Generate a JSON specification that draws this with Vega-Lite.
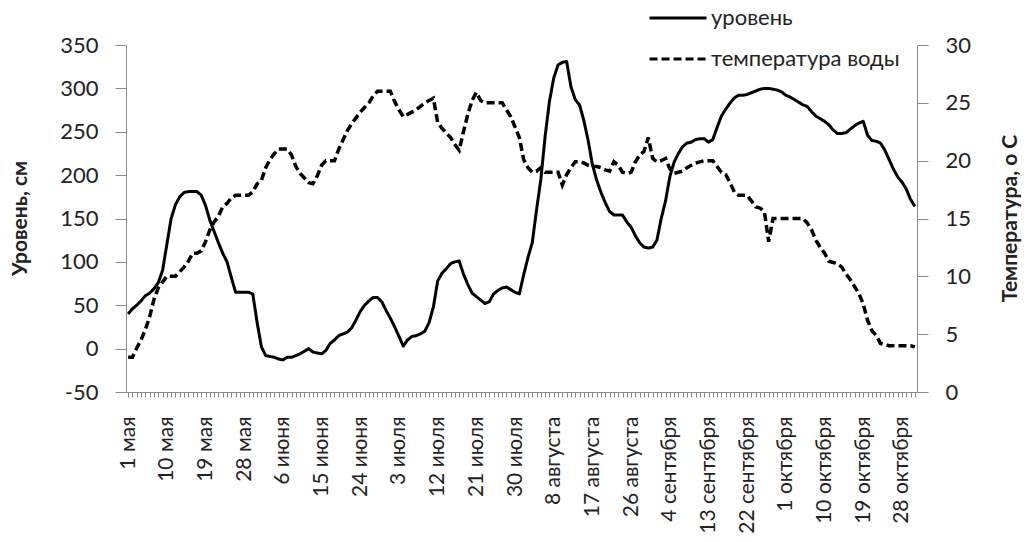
{
  "$schema": "https://vega.github.io/schema/vega-lite/v6.json",
  "width": 791,
  "height": 347,
  "autosize": {"type": "none"},
  "padding": {"left": 126, "top": 45, "right": 110, "bottom": 150},
  "background": "white",
  "config": {
    "view": {"stroke": null},
    "font": "Lato",
    "axis": {
      "labelFont": "Lato",
      "titleFont": "Lato",
      "labelColor": "#222222",
      "titleColor": "#222222",
      "domainColor": "#8a8a8a",
      "tickColor": "#8a8a8a",
      "grid": false
    },
    "legend": {"labelFont": "Lato"}
  },
  "data": {
    "values": [
      {"d": "1 мая", "level": 40, "temp": 3},
      {"d": "2 мая", "level": 46, "temp": 3},
      {"d": "3 мая", "level": 50, "temp": 3.8},
      {"d": "4 мая", "level": 55, "temp": 4.5},
      {"d": "5 мая", "level": 61, "temp": 5.4},
      {"d": "6 мая", "level": 64, "temp": 6.5},
      {"d": "7 мая", "level": 69, "temp": 8},
      {"d": "8 мая", "level": 76, "temp": 9},
      {"d": "9 мая", "level": 90, "temp": 9.5},
      {"d": "10 мая", "level": 120, "temp": 10},
      {"d": "11 мая", "level": 150, "temp": 10},
      {"d": "12 мая", "level": 166, "temp": 10},
      {"d": "13 мая", "level": 175, "temp": 10.4},
      {"d": "14 мая", "level": 180, "temp": 10.8},
      {"d": "15 мая", "level": 181, "temp": 11.3},
      {"d": "16 мая", "level": 181, "temp": 12},
      {"d": "17 мая", "level": 181, "temp": 12},
      {"d": "18 мая", "level": 177, "temp": 12.2},
      {"d": "19 мая", "level": 165, "temp": 13},
      {"d": "20 мая", "level": 148, "temp": 14},
      {"d": "21 мая", "level": 135, "temp": 14.7},
      {"d": "22 мая", "level": 122, "temp": 15.2},
      {"d": "23 мая", "level": 110, "temp": 16},
      {"d": "24 мая", "level": 100, "temp": 16.3},
      {"d": "25 мая", "level": 82, "temp": 16.8},
      {"d": "26 мая", "level": 65, "temp": 17},
      {"d": "27 мая", "level": 65, "temp": 17},
      {"d": "28 мая", "level": 65, "temp": 17},
      {"d": "29 мая", "level": 65, "temp": 17},
      {"d": "30 мая", "level": 63, "temp": 17.3},
      {"d": "31 мая", "level": 30, "temp": 18},
      {"d": "1 июня", "level": 2, "temp": 18.3},
      {"d": "2 июня", "level": -8, "temp": 19.4},
      {"d": "3 июня", "level": -9, "temp": 20.1},
      {"d": "4 июня", "level": -10, "temp": 20.6},
      {"d": "5 июня", "level": -12, "temp": 21},
      {"d": "6 июня", "level": -13, "temp": 21},
      {"d": "7 июня", "level": -10, "temp": 21},
      {"d": "8 июня", "level": -10, "temp": 20.5},
      {"d": "9 июня", "level": -8, "temp": 19.5},
      {"d": "10 июня", "level": -6, "temp": 18.9},
      {"d": "11 июня", "level": -3, "temp": 18.5},
      {"d": "12 июня", "level": 0, "temp": 18.1},
      {"d": "13 июня", "level": -4, "temp": 18},
      {"d": "14 июня", "level": -5, "temp": 18.7},
      {"d": "15 июня", "level": -6, "temp": 19.6},
      {"d": "16 июня", "level": -2, "temp": 20},
      {"d": "17 июня", "level": 6, "temp": 20},
      {"d": "18 июня", "level": 10, "temp": 20},
      {"d": "19 июня", "level": 15, "temp": 21},
      {"d": "20 июня", "level": 17, "temp": 21.8},
      {"d": "21 июня", "level": 19, "temp": 22.6},
      {"d": "22 июня", "level": 24, "temp": 23.2},
      {"d": "23 июня", "level": 33, "temp": 23.7},
      {"d": "24 июня", "level": 43, "temp": 24.2},
      {"d": "25 июня", "level": 50, "temp": 24.6},
      {"d": "26 июня", "level": 55, "temp": 25},
      {"d": "27 июня", "level": 59, "temp": 25.6},
      {"d": "28 июня", "level": 59, "temp": 26},
      {"d": "29 июня", "level": 54, "temp": 26},
      {"d": "30 июня", "level": 44, "temp": 26},
      {"d": "1 июля", "level": 35, "temp": 26},
      {"d": "2 июля", "level": 25, "temp": 25.1},
      {"d": "3 июля", "level": 14, "temp": 24.4},
      {"d": "4 июля", "level": 3, "temp": 23.8},
      {"d": "5 июля", "level": 10, "temp": 24},
      {"d": "6 июля", "level": 14, "temp": 24.2},
      {"d": "7 июля", "level": 15, "temp": 24.4},
      {"d": "8 июля", "level": 17, "temp": 24.7},
      {"d": "9 июля", "level": 20, "temp": 25},
      {"d": "10 июля", "level": 30, "temp": 25.2},
      {"d": "11 июля", "level": 48, "temp": 25.4},
      {"d": "12 июля", "level": 78, "temp": 23.3},
      {"d": "13 июля", "level": 87, "temp": 22.8},
      {"d": "14 июля", "level": 92, "temp": 22.4},
      {"d": "15 июля", "level": 98, "temp": 22},
      {"d": "16 июля", "level": 100, "temp": 21.4},
      {"d": "17 июля", "level": 101, "temp": 20.9},
      {"d": "18 июля", "level": 86, "temp": 22.5},
      {"d": "19 июля", "level": 74, "temp": 24},
      {"d": "20 июля", "level": 64, "temp": 25.2},
      {"d": "21 июля", "level": 60, "temp": 25.9},
      {"d": "22 июля", "level": 56, "temp": 25.2},
      {"d": "23 июля", "level": 52, "temp": 25},
      {"d": "24 июля", "level": 54, "temp": 25},
      {"d": "25 июля", "level": 63, "temp": 25},
      {"d": "26 июля", "level": 67, "temp": 25},
      {"d": "27 июля", "level": 70, "temp": 25},
      {"d": "28 июля", "level": 71, "temp": 24.4},
      {"d": "29 июля", "level": 68, "temp": 23.8},
      {"d": "30 июля", "level": 65, "temp": 22.9},
      {"d": "31 июля", "level": 63, "temp": 22},
      {"d": "1 августа", "level": 85, "temp": 20.1},
      {"d": "2 августа", "level": 105, "temp": 19.4},
      {"d": "3 августа", "level": 122, "temp": 19},
      {"d": "4 августа", "level": 160, "temp": 19.1},
      {"d": "5 августа", "level": 195, "temp": 19.4},
      {"d": "6 августа", "level": 245, "temp": 19},
      {"d": "7 августа", "level": 285, "temp": 19},
      {"d": "8 августа", "level": 312, "temp": 19},
      {"d": "9 августа", "level": 327, "temp": 19},
      {"d": "10 августа", "level": 330, "temp": 17.9},
      {"d": "11 августа", "level": 331, "temp": 18.8},
      {"d": "12 августа", "level": 302, "temp": 19.4},
      {"d": "13 августа", "level": 287, "temp": 19.9},
      {"d": "14 августа", "level": 281, "temp": 19.9},
      {"d": "15 августа", "level": 263, "temp": 19.8},
      {"d": "16 августа", "level": 240, "temp": 19.6},
      {"d": "17 августа", "level": 212, "temp": 19.5},
      {"d": "18 августа", "level": 194, "temp": 19.5},
      {"d": "19 августа", "level": 180, "temp": 19.4},
      {"d": "20 августа", "level": 168, "temp": 19.2},
      {"d": "21 августа", "level": 158, "temp": 19.1},
      {"d": "22 августа", "level": 154, "temp": 19.9},
      {"d": "23 августа", "level": 154, "temp": 19.6},
      {"d": "24 августа", "level": 154, "temp": 19},
      {"d": "25 августа", "level": 146, "temp": 18.9},
      {"d": "26 августа", "level": 140, "temp": 19},
      {"d": "27 августа", "level": 130, "temp": 19.9},
      {"d": "28 августа", "level": 122, "temp": 20.5},
      {"d": "29 августа", "level": 117, "temp": 20.8},
      {"d": "30 августа", "level": 116, "temp": 22},
      {"d": "31 августа", "level": 117, "temp": 20.2},
      {"d": "1 сентября", "level": 125, "temp": 19.9},
      {"d": "2 сентября", "level": 150, "temp": 20},
      {"d": "3 сентября", "level": 170, "temp": 20.2},
      {"d": "4 сентября", "level": 198, "temp": 19.3},
      {"d": "5 сентября", "level": 215, "temp": 18.9},
      {"d": "6 сентября", "level": 225, "temp": 19},
      {"d": "7 сентября", "level": 233, "temp": 19.1},
      {"d": "8 сентября", "level": 237, "temp": 19.4},
      {"d": "9 сентября", "level": 238, "temp": 19.6},
      {"d": "10 сентября", "level": 241, "temp": 19.8},
      {"d": "11 сентября", "level": 242, "temp": 19.9},
      {"d": "12 сентября", "level": 242, "temp": 20},
      {"d": "13 сентября", "level": 238, "temp": 20},
      {"d": "14 сентября", "level": 241, "temp": 20},
      {"d": "15 сентября", "level": 255, "temp": 19.5},
      {"d": "16 сентября", "level": 268, "temp": 19},
      {"d": "17 сентября", "level": 276, "temp": 18.8},
      {"d": "18 сентября", "level": 283, "temp": 18.1},
      {"d": "19 сентября", "level": 289, "temp": 17.3},
      {"d": "20 сентября", "level": 292, "temp": 17},
      {"d": "21 сентября", "level": 292, "temp": 17},
      {"d": "22 сентября", "level": 293, "temp": 17},
      {"d": "23 сентября", "level": 295, "temp": 16.5},
      {"d": "24 сентября", "level": 297, "temp": 16},
      {"d": "25 сентября", "level": 299, "temp": 15.9},
      {"d": "26 сентября", "level": 300, "temp": 15.6},
      {"d": "27 сентября", "level": 300, "temp": 13},
      {"d": "28 сентября", "level": 299, "temp": 15},
      {"d": "29 сентября", "level": 298, "temp": 15},
      {"d": "30 сентября", "level": 296, "temp": 15},
      {"d": "1 октября", "level": 292, "temp": 15},
      {"d": "2 октября", "level": 290, "temp": 15},
      {"d": "3 октября", "level": 287, "temp": 15},
      {"d": "4 октября", "level": 284, "temp": 15},
      {"d": "5 октября", "level": 281, "temp": 15},
      {"d": "6 октября", "level": 279, "temp": 14.6},
      {"d": "7 октября", "level": 273, "temp": 14},
      {"d": "8 октября", "level": 268, "temp": 13.1},
      {"d": "9 октября", "level": 265, "temp": 12.5},
      {"d": "10 октября", "level": 262, "temp": 12},
      {"d": "11 октября", "level": 258, "temp": 11.3},
      {"d": "12 октября", "level": 252, "temp": 11.2},
      {"d": "13 октября", "level": 248, "temp": 11.1},
      {"d": "14 октября", "level": 248, "temp": 10.8},
      {"d": "15 октября", "level": 249, "temp": 10.2},
      {"d": "16 октября", "level": 253, "temp": 9.7},
      {"d": "17 октября", "level": 257, "temp": 9.1},
      {"d": "18 октября", "level": 260, "temp": 8.5},
      {"d": "19 октября", "level": 262, "temp": 7.6},
      {"d": "20 октября", "level": 246, "temp": 6.2},
      {"d": "21 октября", "level": 240, "temp": 5.3},
      {"d": "22 октября", "level": 239, "temp": 4.9},
      {"d": "23 октября", "level": 237, "temp": 4.2},
      {"d": "24 октября", "level": 229, "temp": 4.1},
      {"d": "25 октября", "level": 218, "temp": 4},
      {"d": "26 октября", "level": 207, "temp": 4},
      {"d": "27 октября", "level": 198, "temp": 4},
      {"d": "28 октября", "level": 192, "temp": 4},
      {"d": "29 октября", "level": 184, "temp": 4},
      {"d": "30 октября", "level": 172, "temp": 4},
      {"d": "31 октября", "level": 164, "temp": 3.9}
    ]
  },
  "encoding": {
    "x": {
      "field": "d",
      "type": "ordinal",
      "sort": null,
      "scale": {"type": "point", "padding": 0.5},
      "axis": {
        "title": null,
        "labelAngle": -90,
        "labelAlign": "right",
        "labelBaseline": "middle",
        "labelFontSize": 21,
        "labelPadding": 19,
        "labelOverlap": false,
        "tickSize": 5,
        "labelExpr": "indexof(['1 мая','10 мая','19 мая','28 мая','6 июня','15 июня','24 июня','3 июля','12 июля','21 июля','30 июля','8 августа','17 августа','26 августа','4 сентября','13 сентября','22 сентября','1 октября','10 октября','19 октября','28 октября'], datum.value) >= 0 ? datum.value : ''"
      }
    }
  },
  "layer": [
    {
      "mark": {"type": "line", "color": "black", "strokeWidth": 3, "strokeJoin": "round"},
      "encoding": {
        "y": {
          "field": "level",
          "type": "quantitative",
          "scale": {"domain": [-50, 350], "nice": false, "zero": false},
          "axis": {
            "orient": "left",
            "title": "Уровень, см",
            "values": [-50, 0, 50, 100, 150, 200, 250, 300, 350],
            "labelExpr": "'' + datum.value",
            "labelFontSize": 22,
            "labelPadding": 17,
            "tickSize": 11,
            "titleFontSize": 21,
            "titleFontWeight": "bold",
            "titleAngle": -90,
            "titleX": -106,
            "titleY": 173,
            "titleAlign": "center",
            "titleBaseline": "middle"
          }
        },
        "strokeDash": {
          "datum": "уровень",
          "type": "nominal",
          "scale": {"domain": ["уровень", "температура воды"], "range": [[1, 0], [8, 4]]},
          "legend": {
            "title": null,
            "orient": "none",
            "legendX": 522,
            "legendY": -57,
            "symbolType": "stroke",
            "symbolSize": 3249,
            "symbolStrokeWidth": 3,
            "symbolStrokeColor": "black",
            "labelFontSize": 22,
            "labelColor": "#222222",
            "labelLimit": 0,
            "labelOffset": 3,
            "rowPadding": -7
          }
        }
      }
    },
    {
      "mark": {"type": "line", "color": "black", "strokeWidth": 3.5, "strokeJoin": "miter"},
      "encoding": {
        "y": {
          "field": "temp",
          "type": "quantitative",
          "scale": {"domain": [0, 30], "nice": false},
          "axis": {
            "orient": "right",
            "title": "Температура, о С",
            "values": [0, 5, 10, 15, 20, 25, 30],
            "labelFontSize": 22,
            "labelPadding": 17,
            "tickSize": 11,
            "titleFontSize": 21,
            "titleFontWeight": "bold",
            "titleAngle": -90,
            "titleX": 93,
            "titleY": 173,
            "titleAlign": "center",
            "titleBaseline": "middle"
          }
        },
        "strokeDash": {"datum": "температура воды", "type": "nominal"}
      }
    }
  ],
  "resolve": {"scale": {"y": "independent"}}
}
